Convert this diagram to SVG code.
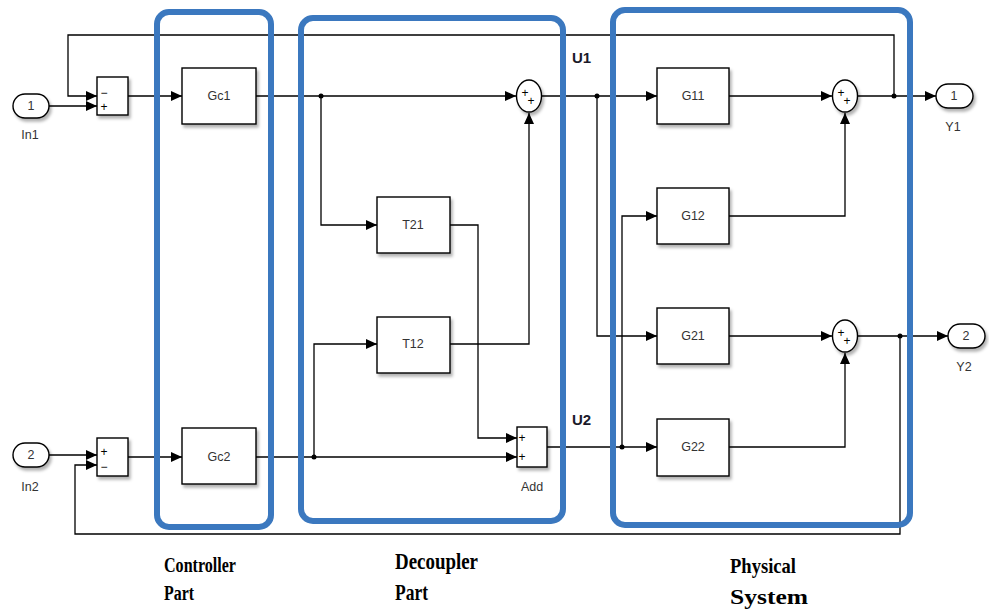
<svg xmlns="http://www.w3.org/2000/svg" width="989" height="614" viewBox="0 0 989 614">
<defs>
<marker id="arr" markerUnits="userSpaceOnUse" markerWidth="11" markerHeight="10" refX="11" refY="5" orient="auto">
<path d="M0,0 L11,5 L0,10 z" fill="#000"/>
</marker>
<filter id="sh" x="-20%" y="-20%" width="150%" height="150%">
<feDropShadow dx="2" dy="3" stdDeviation="1.8" flood-color="#000" flood-opacity="0.3"/>
</filter>
<style>
.blk{fill:#fff;stroke:#000;stroke-width:1.4;filter:url(#sh)}
.lbl{font-family:"Liberation Sans",Arial,sans-serif;font-size:12.5px;fill:#333;text-anchor:middle}
.sgn{font-family:"Liberation Sans",Arial,sans-serif;font-size:12px;fill:#000;text-anchor:middle}
.wire{fill:none;stroke:#000;stroke-width:1.3}
.arw{marker-end:url(#arr)}
.dot{fill:#000}
.grp{fill:none;stroke:#3b78bf;stroke-width:6}
.ul{font-family:"Liberation Sans",Arial,sans-serif;font-size:15px;font-weight:bold;fill:#1a1a2a}
.cap{font-family:"Liberation Serif","Times New Roman",serif;font-weight:bold;fill:#000}
</style>
</defs>
<rect width="989" height="614" fill="#fff"/>

<g id="connectors">
<path class="wire arw" d="M49,106 H97"/>
<path class="wire arw" d="M894,96 V35 H68 V96 H97"/>
<path class="wire arw" d="M128,96 H182"/>
<path class="wire arw" d="M256,96 H516"/>
<path class="wire arw" d="M321,96 V225 H377"/>
<path class="wire arw" d="M450,225 H478 V438 H517"/>
<path class="wire arw" d="M49,455 H97"/>
<path class="wire arw" d="M900,336 V534 H75 V465 H97"/>
<path class="wire arw" d="M128,457 H182"/>
<path class="wire arw" d="M256,457 H517"/>
<path class="wire arw" d="M314,457 V344 H377"/>
<path class="wire arw" d="M450,344 H529 V113"/>
<path class="wire arw" d="M542,96 H657"/>
<path class="wire arw" d="M597,96 V336 H657"/>
<path class="wire arw" d="M547,447 H657"/>
<path class="wire arw" d="M622,447 V216 H657"/>
<path class="wire arw" d="M729,96 H832"/>
<path class="wire arw" d="M729,216 H845 V113"/>
<path class="wire arw" d="M729,336 H832"/>
<path class="wire arw" d="M729,447 H845 V353"/>
<path class="wire arw" d="M858,96 H936"/>
<path class="wire arw" d="M858,336 H948"/>
<circle class="dot" cx="321" cy="96" r="2.5"/>
<circle class="dot" cx="314" cy="457" r="2.5"/>
<circle class="dot" cx="597" cy="96" r="2.5"/>
<circle class="dot" cx="622" cy="447" r="2.5"/>
<circle class="dot" cx="894" cy="96" r="2.5"/>
<circle class="dot" cx="900" cy="336" r="2.5"/>
</g>

<g id="In1">
<rect class="blk" x="13" y="94" width="36" height="24" rx="12"/>
<text class="lbl" x="31" y="110">1</text>
<text class="lbl" x="30" y="139">In1</text>
</g>
<g id="In2">
<rect class="blk" x="13" y="443" width="36" height="24" rx="12"/>
<text class="lbl" x="31" y="459">2</text>
<text class="lbl" x="30" y="491">In2</text>
</g>
<g id="Sum1">
<rect class="blk" x="97" y="77" width="31" height="38"/>
<text class="sgn" x="104" y="97">−</text>
<text class="sgn" x="104" y="111">+</text>
</g>
<g id="Sum2">
<rect class="blk" x="97" y="438" width="31" height="38"/>
<text class="sgn" x="104" y="456">+</text>
<text class="sgn" x="104" y="471">−</text>
</g>
<g id="Gc1">
<rect class="blk" x="182" y="68" width="74" height="56"/>
<text class="lbl" x="219" y="100">Gc1</text>
</g>
<g id="Gc2">
<rect class="blk" x="182" y="428" width="74" height="56"/>
<text class="lbl" x="219" y="461">Gc2</text>
</g>
<g id="T21">
<rect class="blk" x="377" y="197" width="73" height="56"/>
<text class="lbl" x="413" y="229">T21</text>
</g>
<g id="T12">
<rect class="blk" x="377" y="317" width="73" height="56"/>
<text class="lbl" x="413" y="348">T12</text>
</g>
<g id="SumU1">
<ellipse class="blk" cx="529" cy="96" rx="12.5" ry="16"/>
<text class="sgn" x="525" y="97">+</text>
<text class="sgn" x="531" y="105">+</text>
</g>
<g id="Add">
<rect class="blk" x="517" y="427" width="30" height="40"/>
<text class="sgn" x="522" y="442">+</text>
<text class="sgn" x="522" y="461">+</text>
<text class="lbl" x="532" y="491">Add</text>
</g>
<g id="G11">
<rect class="blk" x="657" y="68" width="72" height="56"/>
<text class="lbl" x="693" y="100">G11</text>
</g>
<g id="G12">
<rect class="blk" x="657" y="188" width="72" height="56"/>
<text class="lbl" x="693" y="220">G12</text>
</g>
<g id="G21">
<rect class="blk" x="657" y="308" width="72" height="56"/>
<text class="lbl" x="693" y="340">G21</text>
</g>
<g id="G22">
<rect class="blk" x="657" y="419" width="72" height="57"/>
<text class="lbl" x="693" y="451">G22</text>
</g>
<g id="SumY1">
<ellipse class="blk" cx="845" cy="96" rx="12.5" ry="16"/>
<text class="sgn" x="841" y="97">+</text>
<text class="sgn" x="847" y="105">+</text>
</g>
<g id="SumY2">
<ellipse class="blk" cx="845" cy="336" rx="12.5" ry="16"/>
<text class="sgn" x="841" y="337">+</text>
<text class="sgn" x="847" y="345">+</text>
</g>
<g id="Y1">
<rect class="blk" x="936" y="84" width="37" height="24" rx="12"/>
<text class="lbl" x="954" y="100">1</text>
<text class="lbl" x="953" y="131">Y1</text>
</g>
<g id="Y2">
<rect class="blk" x="948" y="324" width="37" height="24" rx="12"/>
<text class="lbl" x="966" y="340">2</text>
<text class="lbl" x="964" y="371">Y2</text>
</g>

<text class="ul" x="572" y="63">U1</text>
<text class="ul" x="572" y="425">U2</text>

<g id="ControllerPart">
<rect class="grp" x="157" y="12" width="114" height="515" rx="12"/>
<text class="cap" x="164" y="572" font-size="20" textLength="72" lengthAdjust="spacingAndGlyphs">Controller</text>
<text class="cap" x="164" y="600" font-size="20" textLength="30" lengthAdjust="spacingAndGlyphs">Part</text>
</g>
<g id="DecouplerPart">
<rect class="grp" x="301" y="18" width="262" height="503" rx="12"/>
<text class="cap" x="395" y="569" font-size="23" textLength="83" lengthAdjust="spacingAndGlyphs">Decoupler</text>
<text class="cap" x="395" y="600" font-size="23" textLength="33" lengthAdjust="spacingAndGlyphs">Part</text>
</g>
<g id="PhysicalSystem">
<rect class="grp" x="613" y="10" width="297" height="515" rx="12"/>
<text class="cap" x="730" y="573" font-size="22" textLength="66" lengthAdjust="spacingAndGlyphs">Physical</text>
<text class="cap" x="730" y="604" font-size="22" textLength="78" lengthAdjust="spacingAndGlyphs">System</text>
</g>
</svg>
